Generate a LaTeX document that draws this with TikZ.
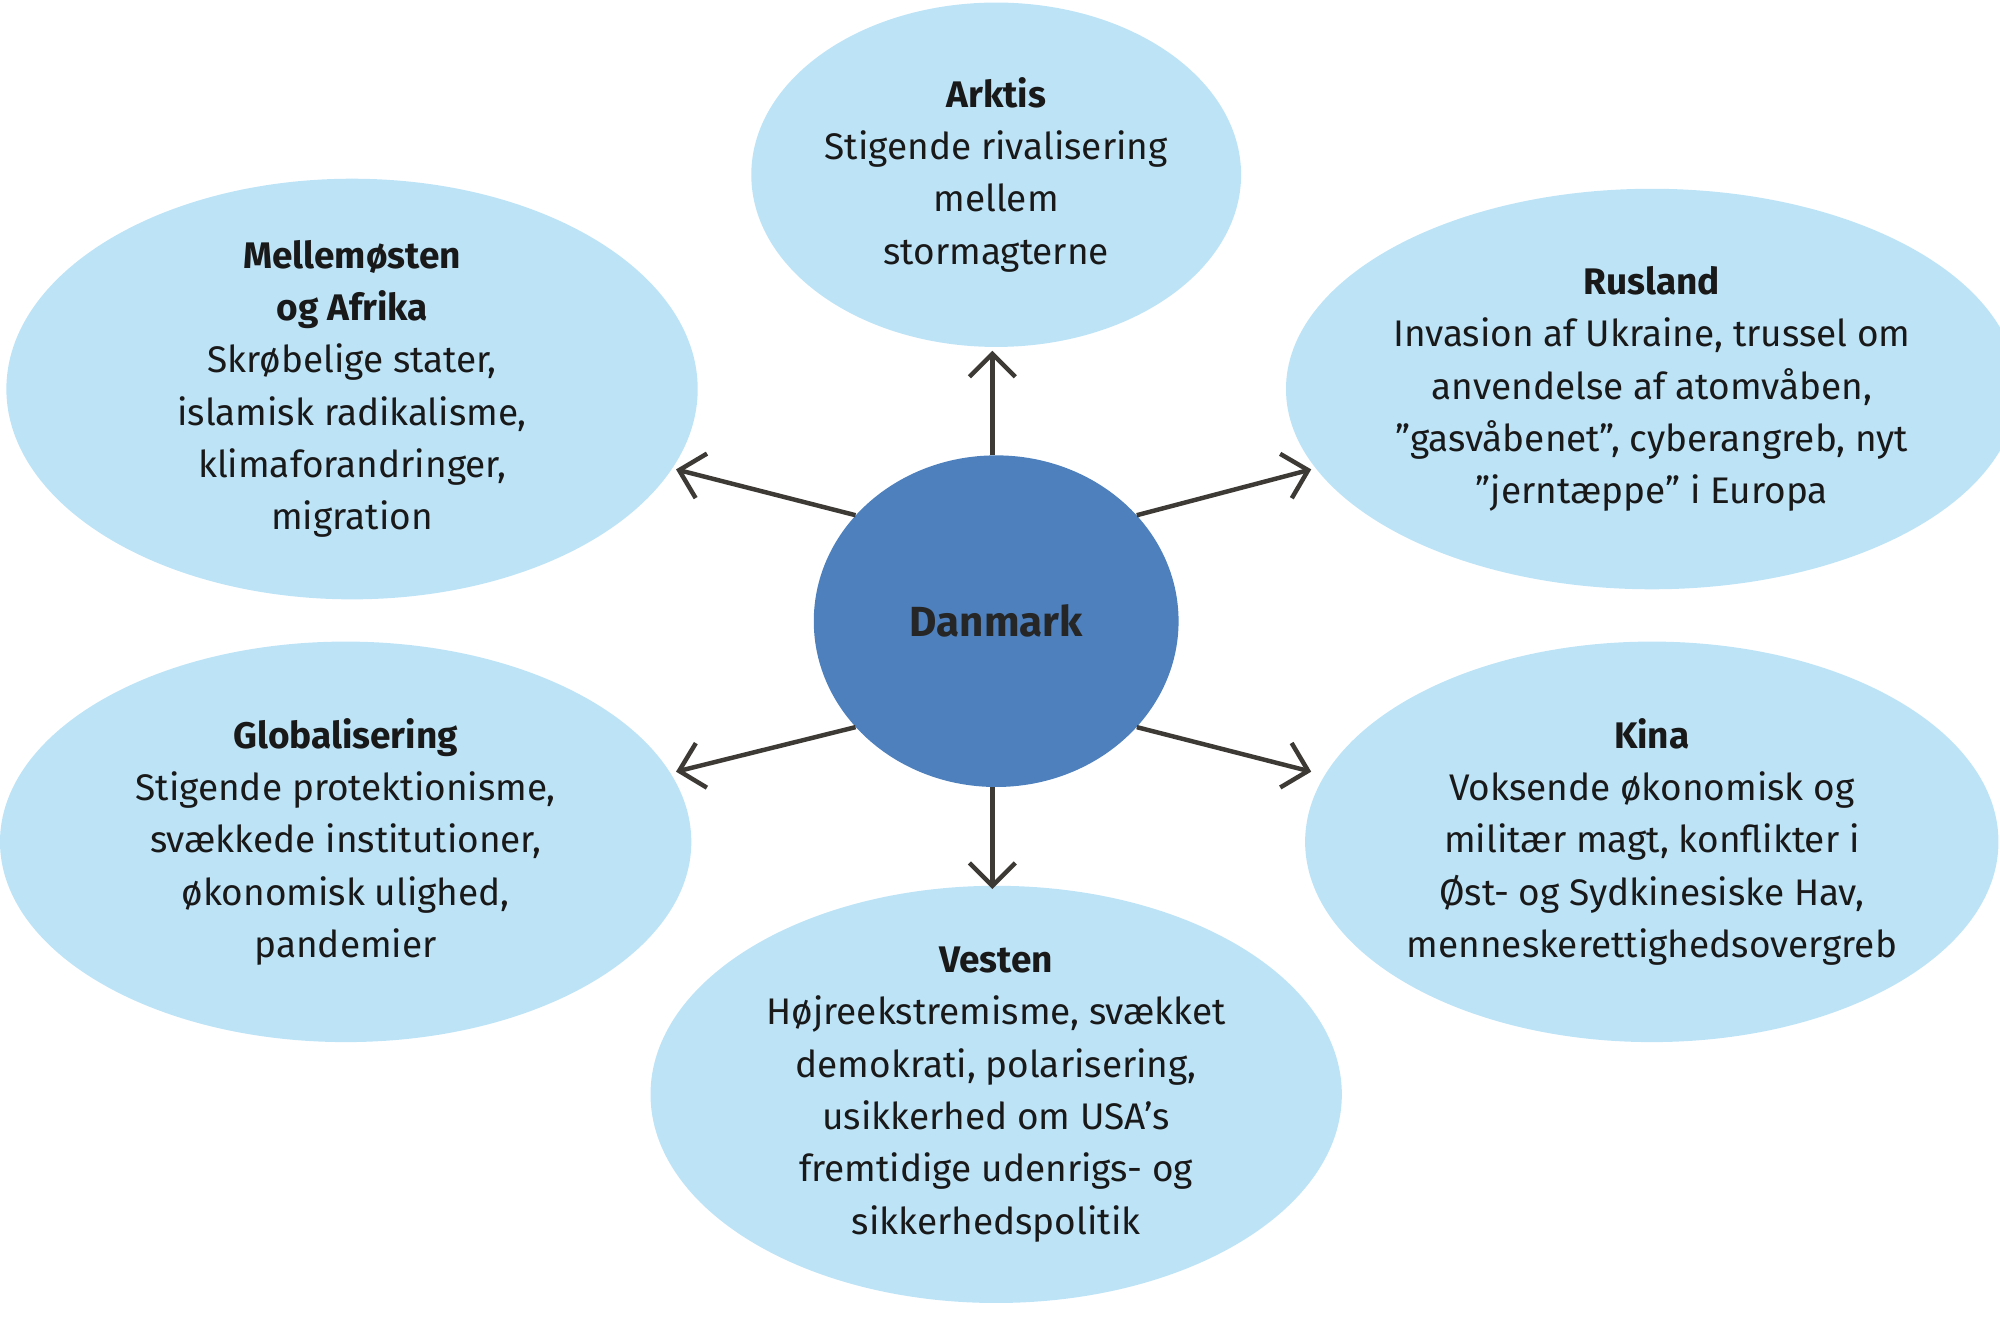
\documentclass[tikz,border=0pt]{standalone}
\usepackage{fontspec}
\setmainfont{Fira Sans}
\usetikzlibrary{shapes.geometric,arrows.meta}
\definecolor{lb}{HTML}{BDE3F7}
\definecolor{db}{HTML}{4D80BC}
\definecolor{ar}{HTML}{3D3A35}
\begin{document}
\begin{tikzpicture}[x=1pt,y=1pt,
  bub/.style={ellipse,fill=lb,draw=none,inner sep=0pt,align=center,font=\fontsize{29}{41}\selectfont,text=black!90},
  arr/.style={draw=ar,line width=3.5pt,-{Straight Barb[length=18pt,width=36pt,line width=3.5pt]}}]
\useasboundingbox (0,0) rectangle (1568,-1046);
\node[bub,minimum width=384,minimum height=270] (ark) at (781,-137) {\textbf{Arktis}\\Stigende rivalisering\\mellem\\stormagterne};
\node[bub,minimum width=542,minimum height=314] (mel) at (276,-305) {\textbf{Mellemøsten}\\\textbf{og Afrika}\\Skrøbelige stater,\\islamisk radikalisme,\\klimaforandringer,\\migration};
\node[bub,minimum width=542,minimum height=314] (rus) at (1295,-305) {\textbf{Rusland}\\Invasion af Ukraine, trussel om\\anvendelse af atomvåben,\\”gasvåbenet”, cyberangreb,  nyt\\”jerntæppe” i Europa};
\node[bub,minimum width=542,minimum height=314] (glo) at (271,-660) {\textbf{Globalisering}\\Stigende protektionisme,\\svækkede institutioner,\\økonomisk ulighed,\\pandemier};
\node[bub,minimum width=542,minimum height=314] (kin) at (1295,-660) {\textbf{Kina}\\Voksende økonomisk og\\militær magt, konflikter i\\Øst- og Sydkinesiske Hav,\\menneskerettighedsovergreb};
\node[bub,minimum width=542,minimum height=314] (ves) at (781,-858) {\textbf{Vesten}\\Højreekstremisme, svækket\\demokrati, polarisering,\\usikkerhed om USA’s\\fremtidige udenrigs- og\\sikkerhedspolitik};
\node[ellipse,fill=db,minimum width=286,minimum height=260,inner sep=0pt,font=\fontsize{33}{40}\selectfont\bfseries,text=black!85] (dk) at (781,-487) {Danmark};
\coordinate (t1) at (778,-275);
\coordinate (t2) at (530,-368);
\coordinate (t3) at (1028,-368);
\coordinate (t4) at (530,-605);
\coordinate (t5) at (1028,-605);
\coordinate (t6) at (778,-697);
\draw[arr] (dk.north -| t1) -- (t1);
\draw[arr] (dk.143) -- (t2);
\draw[arr] (dk.37) -- (t3);
\draw[arr] (dk.217) -- (t4);
\draw[arr] (dk.-37) -- (t5);
\draw[arr] (dk.south -| t6) -- (t6);
\end{tikzpicture}
\end{document}
